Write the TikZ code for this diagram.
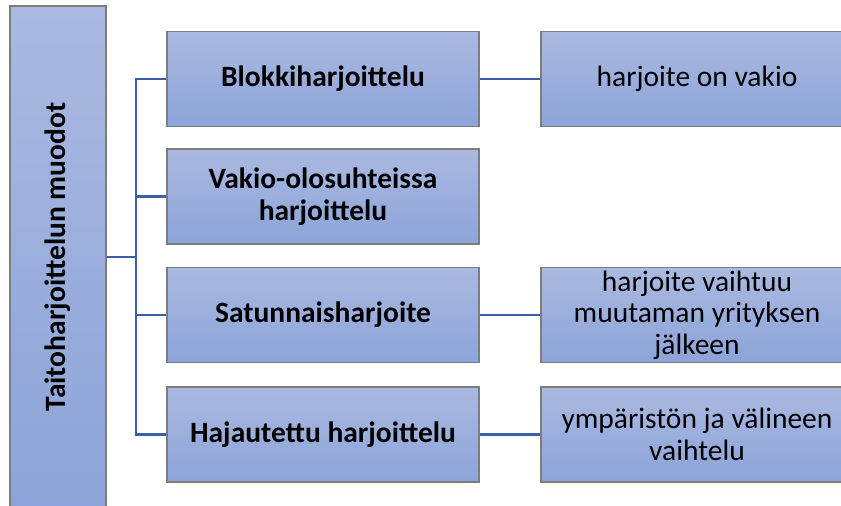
\documentclass[tikz,border=0pt]{standalone}
\usepackage{fontspec}
\setmainfont{Carlito}
\definecolor{boxtop}{RGB}{170,185,225}
\definecolor{boxbottom}{RGB}{140,164,217}
\definecolor{boxline}{RGB}{125,125,125}
\definecolor{linkblue}{RGB}{60,94,168}
\tikzset{
  formbox/.style={draw=boxline, line width=1.1pt, top color=boxtop, bottom color=boxbottom,
    minimum width=312pt, minimum height=95pt, align=center, inner sep=2pt,
    font=\fontsize{29.5}{31.5}\selectfont},
  kindbox/.style={formbox, font=\fontsize{29.5}{31.5}\selectfont\bfseries},
  link/.style={draw=linkblue, line width=2.4pt}
}
\begin{document}
\begin{tikzpicture}[x=1pt, y=1pt]
    \useasboundingbox (0,0) rectangle (841,506);
    \clip (0,0) rectangle (841,506);

    % left column
    \node[kindbox, minimum width=96pt, minimum height=502pt] (root) at (58,249) {};
    \node[font=\fontsize{29.5}{31.5}\selectfont\bfseries, rotate=90] (rootlabel) at (root.center) {Taitoharjoittelun muodot};

    % middle column
    \node[kindbox] (blokki) at (323,427) {Blokkiharjoittelu};
    \node[kindbox] (vakio) at (323,309.5) {Vakio-olosuhteissa\\harjoittelu};
    \node[kindbox] (satunnais) at (323,191) {Satunnaisharjoite};
    \node[kindbox] (hajautettu) at (323,71.5) {Hajautettu harjoittelu};

    % right column
    \node[formbox] (vakiona) at (697,427) {harjoite on vakio};
    \node[formbox] (vaihtuu) at (697,191) {harjoite vaihtuu\\muutaman yrityksen\\jälkeen};
    \node[formbox] (vaihtelu) at (697,71.5) {ympäristön ja välineen\\vaihtelu};

    % connectors
    \coordinate (trunk) at (136,249);
    \draw[link] (root.east) -- (trunk);
    \draw[link] (blokki.west) -| (trunk) |- (hajautettu.west);
    \draw[link] (trunk |- vakio.west) -- (vakio.west);
    \draw[link] (trunk |- satunnais.west) -- (satunnais.west);
    \draw[link] (blokki.east) -- (vakiona.west);
    \draw[link] (satunnais.east) -- (vaihtuu.west);
    \draw[link] (hajautettu.east) -- (vaihtelu.west);
\end{tikzpicture}
\end{document}
